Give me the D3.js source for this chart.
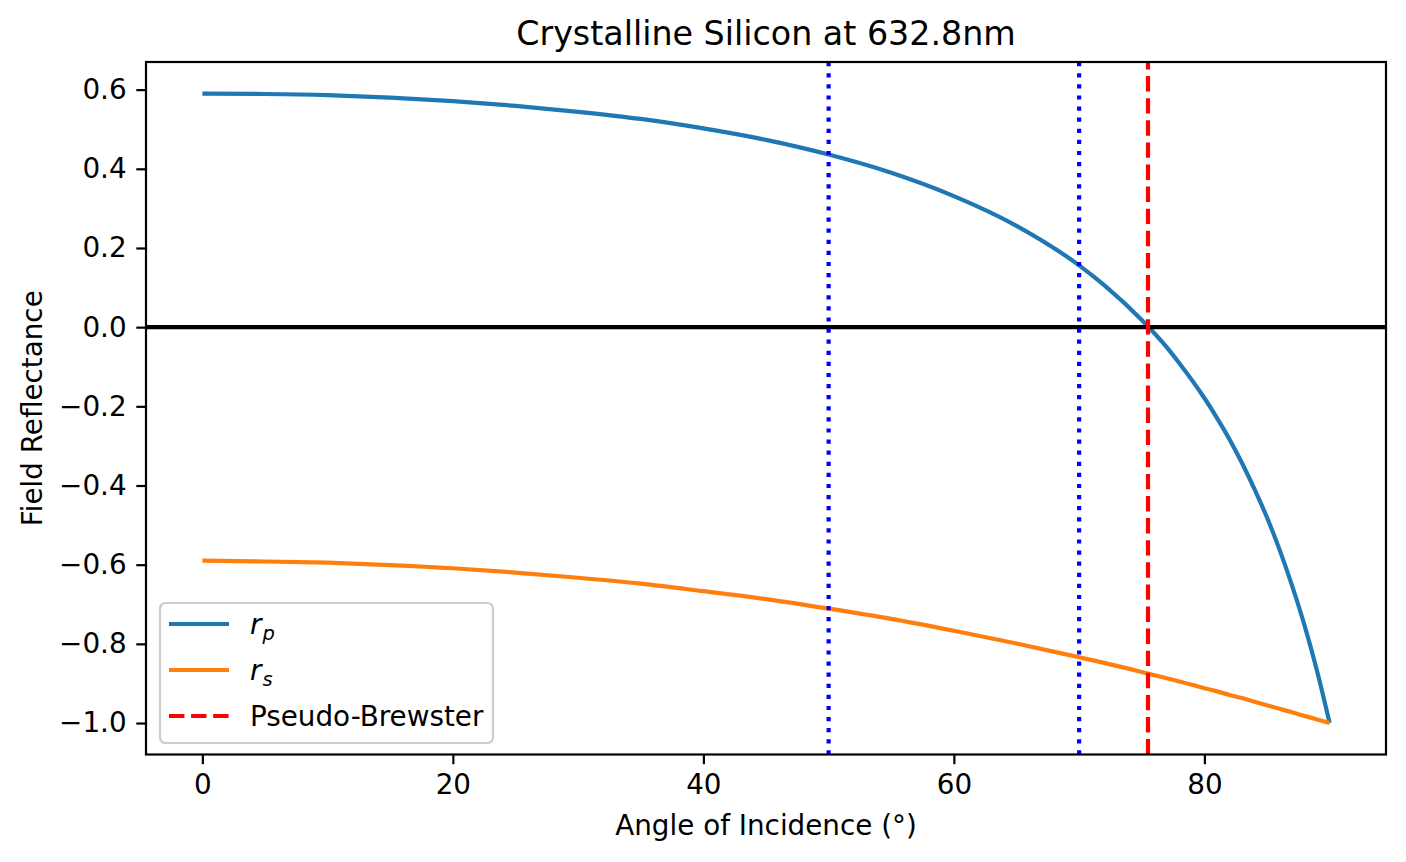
<!DOCTYPE html>
<html>
<head>
<meta charset="utf-8">
<script src="https://cdn.jsdelivr.net/npm/d3@7"></script>
<style>
  body { margin: 0; background: #fff; }
  text { font-family: "DejaVu Sans", sans-serif; fill: #000; }
</style>
</head>
<body>
<div id="chart"></div>
<script>
// angles of incidence (deg) and the field reflectance
var angles = [0, 5, 10, 15, 20, 25, 30, 35, 40, 45, 50, 55, 60, 65, 70, 72, 75, 77, 78, 80, 81, 82, 83, 84, 85, 86, 87, 88, 89, 90];
var rpValues = [0.590, 0.589, 0.586, 0.580, 0.571, 0.559, 0.544, 0.526, 0.502, 0.473, 0.436, 0.390, 0.331, 0.256, 0.156, 0.106, 0.018, -0.051, -0.091, -0.179, -0.229, -0.283, -0.343, -0.409, -0.481, -0.562, -0.653, -0.754, -0.869, -1.000];
var rsValues = [-0.590, -0.592, -0.595, -0.601, -0.609, -0.620, -0.633, -0.648, -0.667, -0.687, -0.711, -0.737, -0.767, -0.799, -0.834, -0.848, -0.871, -0.887, -0.895, -0.912, -0.920, -0.929, -0.937, -0.946, -0.955, -0.964, -0.973, -0.982, -0.991, -1.000];
var markedAngles = [50, 70];
var brewsterAngle = 75.5;
var xTicks = [0, 20, 40, 60, 80];
var yTicks = [-1.0, -0.8, -0.6, -0.4, -0.2, 0.0, 0.2, 0.4, 0.6];

var W = 1406, H = 862;
var margin = {top: 62, right: 20, bottom: 107.5, left: 146};
var fs = 27.8;

var svg = d3.select("#chart").append("svg")
    .attr("width", W)
    .attr("height", H);

var x = d3.scaleLinear()
    .domain([-4.5, 94.5])
    .range([margin.left, W - margin.right]);
var y = d3.scaleLinear()
    .domain([-1.0795, 0.6698])
    .range([H - margin.bottom, margin.top]);

var rp = angles.map(function(a, i) { return {a: a, v: rpValues[i]}; });
var rs = angles.map(function(a, i) { return {a: a, v: rsValues[i]}; });

var line = d3.line()
    .x(function(d) { return x(d.a); })
    .y(function(d) { return y(d.v); })
    .curve(d3.curveMonotoneX);

// curves
svg.append("path").datum(rp)
    .attr("d", line)
    .attr("fill", "none")
    .attr("stroke", "#1f77b4")
    .attr("stroke-width", 4.2);
svg.append("path").datum(rs)
    .attr("d", line)
    .attr("fill", "none")
    .attr("stroke", "#ff7f0e")
    .attr("stroke-width", 4.2);

// zero line
svg.append("line")
    .attr("x1", x.range()[0]).attr("x2", x.range()[1])
    .attr("y1", y(0)).attr("y2", y(0))
    .attr("stroke", "#000")
    .attr("stroke-width", 4.2);

// marked angles
svg.selectAll(".mark").data(markedAngles).enter().append("line")
    .attr("class", "mark")
    .attr("x1", function(d) { return x(d); })
    .attr("x2", function(d) { return x(d); })
    .attr("y1", y.range()[0]).attr("y2", y.range()[1])
    .attr("stroke", "#0000ff")
    .attr("stroke-width", 4.2)
    .attr("stroke-dasharray", "4.2,6.9");

svg.append("line")
    .attr("x1", x(brewsterAngle)).attr("x2", x(brewsterAngle))
    .attr("y1", y.range()[0]).attr("y2", y.range()[1])
    .attr("stroke", "#ff0000")
    .attr("stroke-width", 4.2)
    .attr("stroke-dasharray", "15.4,6.7");

// axes
var xAxis = svg.append("g")
    .attr("transform", "translate(0," + (H - margin.bottom) + ")")
    .call(d3.axisBottom(x).tickValues(xTicks).tickFormat(d3.format("d"))
      .tickSize(9.7).tickPadding(9.7));
var yAxis = svg.append("g")
    .attr("transform", "translate(" + margin.left + ",0)")
    .call(d3.axisLeft(y).tickValues(yTicks).tickFormat(d3.format(".1f"))
      .tickSize(9.7).tickPadding(9.7));

[xAxis, yAxis].forEach(function(g) {
  g.select(".domain").remove();
  g.selectAll(".tick line").attr("stroke", "#000").attr("stroke-width", 2.2);
  g.selectAll(".tick text")
    .style("font-family", "DejaVu Sans")
    .style("font-size", fs + "px")
    .attr("fill", "#000");
});

// spines
svg.append("rect")
    .attr("x", margin.left)
    .attr("y", margin.top)
    .attr("width", W - margin.left - margin.right)
    .attr("height", H - margin.top - margin.bottom)
    .attr("fill", "none")
    .attr("stroke", "#000")
    .attr("stroke-width", 2.2);

// titles
var cx = (x.range()[0] + x.range()[1]) / 2;
svg.append("text")
    .attr("x", cx).attr("y", 45)
    .attr("text-anchor", "middle")
    .style("font-size", "33.3px")
    .text("Crystalline Silicon at 632.8nm");
svg.append("text")
    .attr("x", cx).attr("y", 835)
    .attr("text-anchor", "middle")
    .style("font-size", fs + "px")
    .text("Angle of Incidence (°)");
svg.append("text")
    .attr("transform", "translate(42," + ((y.range()[0] + y.range()[1]) / 2) + ") rotate(-90)")
    .attr("text-anchor", "middle")
    .style("font-size", fs + "px")
    .text("Field Reflectance");

// legend
var legend = svg.append("g");
legend.append("rect")
    .attr("x", 160).attr("y", 603)
    .attr("width", 333).attr("height", 140)
    .attr("rx", 5.5).attr("ry", 5.5)
    .attr("fill", "#fff").attr("fill-opacity", 0.8)
    .attr("stroke", "#cccccc")
    .attr("stroke-width", 2.2);

var items = [
  {color: "#1f77b4", dash: null, sub: "p"},
  {color: "#ff7f0e", dash: null, sub: "s"},
  {color: "#ff0000", dash: "15.4,6.7", label: "Pseudo-Brewster"}
];
items.forEach(function(d, i) {
  var ly = 624 + i * 46;
  legend.append("line")
    .attr("x1", 169).attr("x2", 229)
    .attr("y1", ly).attr("y2", ly)
    .attr("stroke", d.color)
    .attr("stroke-width", 4.2)
    .attr("stroke-dasharray", d.dash);
  var t = legend.append("text")
    .attr("x", 250).attr("y", ly + 10)
    .style("font-size", fs + "px");
  if (d.sub) {
    t.append("tspan").style("font-style", "italic").text("r");
    t.append("tspan").attr("dy", 6).attr("dx", 1)
      .style("font-style", "italic")
      .style("font-size", (fs * 0.7) + "px")
      .text(d.sub);
  } else {
    t.text(d.label);
  }
});
</script>
</body>
</html>
